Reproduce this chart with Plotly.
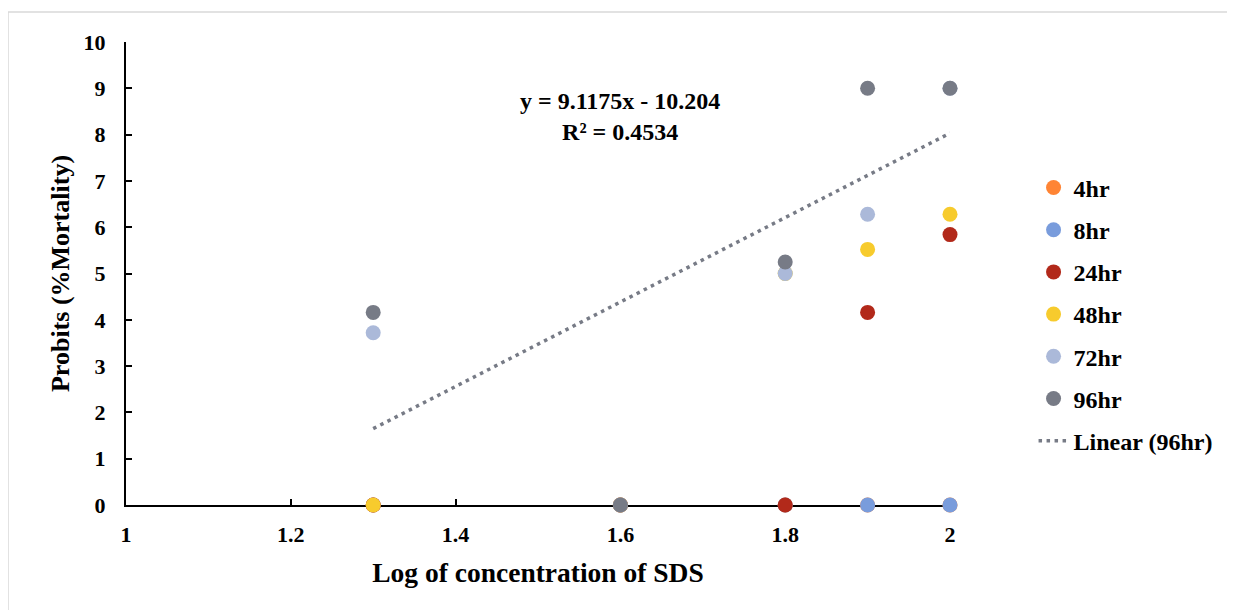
import plotly.graph_objects as go

# ---- data ----
log_conc = [1.3, 1.6, 1.8, 1.9, 2.0]
series_names = ["4hr", "8hr", "24hr", "48hr", "72hr", "96hr"]
hr4 = [0, 0, 0, 0, 0]
hr8 = [0, 0, 0, 0, 0]
hr24 = [0, 0, 0, 4.16, 5.84]
hr48 = [0, 0, 5.0, 5.52, 6.28]
hr72 = [3.72, 0, 5.0, 6.28, 9.0]
hr96 = [4.16, 0, 5.25, 9.0, 9.0]
series_values = [hr4, hr8, hr24, hr48, hr72, hr96]
colors = ["#FF8434", "#799CDC", "#B2291A", "#F7CB2D", "#ABB9D9", "#777B86"]

trend_slope = 9.1175
trend_intercept = -10.204
trend_r2 = 0.4534
trend_x = [1.3, 2.0]
x_ticks = [1, 1.2, 1.4, 1.6, 1.8, 2]
y_ticks = list(range(0, 11))

FONT = "Liberation Serif, Times New Roman, serif"

fig = go.Figure()
for name, vals, col in zip(series_names, series_values, colors):
    fig.add_trace(go.Scatter(
        x=log_conc, y=vals, mode="markers", name=name,
        marker=dict(color=col, size=15, line=dict(width=0)),
        cliponaxis=False, legendgroup=name,
    ))

trend_y = [trend_slope * xv + trend_intercept for xv in trend_x]
fig.add_trace(go.Scatter(
    x=trend_x, y=trend_y, mode="lines", name="Linear (96hr)",
    line=dict(color="#777B86", width=3.5, dash="3.5px,4.5px"),
    legendgroup="trend", cliponaxis=False,
))

fig.add_annotation(
    x=1.6, y=8.4, xref="x", yref="y",
    text=f"y = {trend_slope}x - {abs(trend_intercept)}<br>R² = {trend_r2}",
    showarrow=False, font=dict(family=FONT, size=24, color="black", weight="bold"),
    align="center",
)

fig.add_shape(type="rect", xref="paper", yref="paper",
              x0=-0.1432, x1=1.5, y0=-0.35, y1=1.0648,
              line=dict(color="#D9D9D9", width=1.5), fillcolor="rgba(0,0,0,0)", layer="below")

fig.update_layout(
    width=1227, height=602,
    margin=dict(l=118, r=285, t=34, b=105, autoexpand=False),
    paper_bgcolor="white", plot_bgcolor="white",
    font=dict(family=FONT, size=22, color="black", weight="bold"),
    showlegend=True,
    legend=dict(x=1.1014, y=0.7335, xanchor="left", yanchor="top",
                font=dict(family=FONT, size=24, color="black", weight="bold"),
                tracegroupgap=8, bgcolor="rgba(0,0,0,0)"),
    xaxis=dict(range=[1, 2], tickvals=x_ticks, ticktext=[str(t) for t in x_ticks],
               showline=True, linecolor="black", linewidth=2, layer="below traces",
               ticks="inside", ticklen=6, tickwidth=1.5, tickcolor="black",
               ticklabelstandoff=9,
               showgrid=False, zeroline=False, automargin=False,
               tickfont=dict(family=FONT, size=22, color="black", weight="bold"),
               title=dict(text="Log of concentration of SDS",
                          font=dict(family=FONT, size=27.5, color="black", weight="bold"),
                          standoff=16)),
    yaxis=dict(range=[0, 10], tickvals=y_ticks,
               showline=True, linecolor="black", linewidth=2, layer="below traces",
               ticks="inside", ticklen=6, tickwidth=1.5, tickcolor="black",
               ticklabelstandoff=14,
               showgrid=False, zeroline=False, automargin=False,
               tickfont=dict(family=FONT, size=22, color="black", weight="bold"),
               title=dict(text="Probits (%Mortality)",
                          font=dict(family=FONT, size=26, color="black", weight="bold"),
                          standoff=6)),
)

fig.write_html("out.html")
